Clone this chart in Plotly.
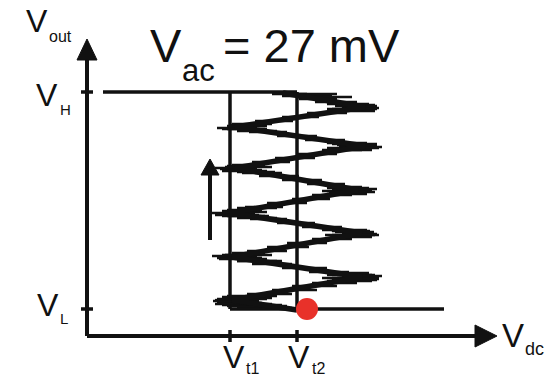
import plotly.graph_objects as go

# ---- schematic values (arbitrary units; origin = axes corner) ----
V_L = 27          # low output level
V_H = 244         # high output level
V_T1 = 143        # lower threshold
V_T2 = 210        # upper threshold
H_START = 16      # start of V_H branch
L_END = 357       # end of V_L branch
DOT = (220, 27)   # operating point (red dot)
X_AXIS_END = 410
Y_AXIS_END = 297

# noisy trace: zigzag turning points
ZIG_X = [210, 145, 275, 145, 275, 143, 271, 148, 278, 148, 278, 196]
ZIG_Y = [26, 36, 59, 79, 103, 123, 146, 168, 190, 209, 229, 243]

# noise "hairs" (horizontal excursions)
HAIR_Y = [28, 31, 34, 36,
          38, 42, 46, 50, 53, 56, 58,
          61, 64, 68, 72, 75, 78,
          81, 85, 89, 93, 97, 101,
          105, 109, 113, 117, 120, 122,
          125, 129, 133, 137, 141, 144,
          148, 152, 156, 160, 164, 167,
          170, 174, 178, 182, 186, 189,
          192, 196, 200, 204, 207,
          211, 215, 219, 223, 227,
          231, 234, 237, 240, 242,
          # dense bulbs at the turning points
          30, 32, 33, 35, 37, 39, 40,
          55, 57, 58, 60, 61, 63,
          75, 77, 78, 80, 81, 83,
          99, 101, 102, 104, 106,
          118, 120, 121, 123, 124, 126, 128,
          142, 144, 145, 147, 149,
          163, 165, 166, 168, 169, 171,
          186, 188, 189, 191, 193,
          205, 207, 208, 210, 212,
          225, 227, 228, 230, 232,
          242, 241, 239]
HAIR_X0 = [150, 135, 130, 128,
           140, 160, 185, 205, 225, 245, 250,
           245, 222, 195, 165, 150, 130,
           138, 160, 180, 200, 225, 245,
           245, 215, 190, 163, 140, 128,
           135, 158, 180, 205, 225, 242,
           240, 220, 195, 172, 150, 133,
           140, 165, 188, 210, 235, 252,
           245, 218, 190, 162, 140,
           143, 168, 195, 220, 245,
           248, 228, 212, 195, 185,
           140, 128, 132, 126, 130, 135, 140,
           240, 250, 235, 255, 240, 248,
           150, 132, 140, 125, 135, 145,
           245, 238, 255, 248, 235,
           150, 135, 128, 122, 135, 140, 150,
           240, 250, 235, 245, 242,
           155, 135, 140, 128, 138, 145,
           248, 240, 255, 250, 240,
           150, 135, 130, 140, 145,
           250, 240, 255, 248, 240,
           200, 195, 210]
HAIR_X1 = [205, 195, 170, 160,
           185, 205, 230, 250, 270, 290, 292,
           285, 262, 240, 205, 190, 170,
           175, 200, 222, 240, 265, 288,
           283, 255, 228, 200, 182, 168,
           172, 196, 220, 243, 265, 280,
           282, 258, 235, 212, 188, 170,
           178, 203, 228, 250, 275, 290,
           290, 258, 230, 200, 180,
           180, 206, 232, 260, 288,
           288, 270, 250, 235, 220,
           200, 185, 175, 172, 180, 170, 190,
           285, 292, 280, 295, 288, 282,
           195, 180, 175, 170, 185, 178,
           285, 292, 290, 287, 280,
           190, 178, 172, 165, 180, 175, 190,
           280, 288, 285, 290, 275,
           195, 180, 175, 170, 185, 178,
           285, 292, 295, 290, 280,
           190, 178, 170, 180, 185,
           288, 290, 292, 290, 282,
           250, 245, 265]

# labels: (text, x, y, font size)
LABELS = [
    ("V", -50, 315, 32), ("out", -27, 300, 16),
    ("V", -40, 241, 32), ("H", -21.5, 227, 15),
    ("V", -39.5, 31.5, 32), ("L", -23, 18, 15),
    ("V", 146.5, -21, 32), ("t1", 165, -32.5, 16),
    ("V", 211.5, -21, 32), ("t2", 231, -32.5, 16),
    ("V", 426, 0.5, 33), ("dc", 447.5, -12.5, 18),
    ("V", 79, 290.5, 47), ("ac", 111, 266, 31),
]
TITLE_REST = ("= 27 mV", 134, 290.5, 47)

FONT = "Liberation Sans, Arial, sans-serif"
BLACK = "#111111"

fig = go.Figure()

def line(xs, ys, w=3.5, color=BLACK):
    fig.add_trace(go.Scatter(x=xs, y=ys, mode="lines",
                             line=dict(color=color, width=w),
                             hoverinfo="skip", showlegend=False))

def tri(xs, ys):
    fig.add_trace(go.Scatter(x=xs, y=ys, mode="lines", fill="toself",
                             fillcolor=BLACK, line=dict(color=BLACK, width=1),
                             hoverinfo="skip", showlegend=False))

# axes
line([0, 0], [0, Y_AXIS_END - 21], w=4)
tri([-10, 10, 0, -10], [Y_AXIS_END - 21, Y_AXIS_END - 21, Y_AXIS_END, Y_AXIS_END - 21])
line([0, X_AXIS_END - 22], [0, 0], w=4)
tri([X_AXIS_END - 22, X_AXIS_END - 22, X_AXIS_END, X_AXIS_END - 22], [-11, 11, 0, -11])

# ticks
for yv in (V_H, V_L):
    line([-6, 6], [yv, yv], w=3.5)
for xv in (V_T1, V_T2):
    line([xv, xv], [-6, 6], w=3.5)

# hysteresis loop
line([H_START, V_T2], [V_H, V_H])
line([V_T1, V_T1], [V_L, V_H])
line([V_T2, V_T2], [V_L, V_H])
line([V_T1, L_END], [V_L, V_L])

# noisy trace
hx, hy = [], []
for y, a, b in zip(HAIR_Y, HAIR_X0, HAIR_X1):
    hx += [a, b, None]
    hy += [y, y, None]
fig.add_trace(go.Scatter(x=hx, y=hy, mode="lines",
                         line=dict(color=BLACK, width=2.3),
                         hoverinfo="skip", showlegend=False))
line(ZIG_X, ZIG_Y, w=5.5)

# up arrow
line([123, 123], [96, 162], w=4)
tri([114, 132, 123, 114], [161, 161, 177, 161])

# red dot
fig.add_trace(go.Scatter(x=[DOT[0]], y=[DOT[1]], mode="markers",
                         marker=dict(color="#e8312a", size=22, line=dict(width=0)),
                         hoverinfo="skip", showlegend=False))

for t, x, y, s in LABELS:
    fig.add_annotation(x=x, y=y, text=t, showarrow=False, xanchor="center",
                       yanchor="middle", font=dict(family=FONT, size=s, color=BLACK))
t, x, y, s = TITLE_REST
fig.add_annotation(x=x, y=y, text=t, showarrow=False, xanchor="left",
                   yanchor="middle", font=dict(family=FONT, size=s, color=BLACK))

fig.update_layout(
    width=549, height=377, autosize=False,
    margin=dict(l=0, r=0, t=0, b=0),
    paper_bgcolor="white", plot_bgcolor="white",
    xaxis=dict(range=[-87, 462], visible=False, fixedrange=True),
    yaxis=dict(range=[-41, 336], visible=False, fixedrange=True),
)
fig.write_html("out.html", config={"displayModeBar": False},
               post_script="document.body.style.margin='0';document.body.style.overflow='hidden';")
